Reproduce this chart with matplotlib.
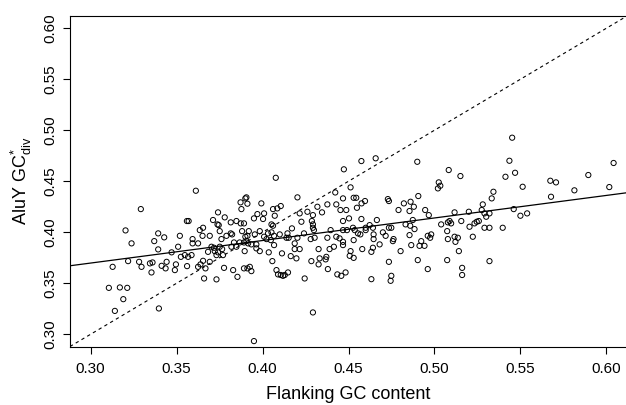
#!/usr/bin/env python3
"""
Scatter of AluY GC*div against flanking GC content,
with the y = x diagonal and a least-squares line.
"""

import matplotlib
matplotlib.use("Agg")
import matplotlib.pyplot as plt

# flanking GC content (x) and AluY GC*div (y)
gc_flank = [
    0.3612, 0.3292,
    0.4473, 0.4077, 0.3906, 0.3900, 0.4203, 0.3872, 0.3912, 0.3993, 0.3877, 0.4423,
    0.4468, 0.4319, 0.4377, 0.4429, 0.4453, 0.4261, 0.4346, 0.4293, 0.4216, 0.4061,
    0.4086, 0.4106, 0.4071, 0.3970, 0.4009, 0.3741, 0.3780, 0.3950, 0.4003,
    0.4575, 0.4658, 0.4900, 0.5083, 0.5151, 0.5025, 0.5034, 0.5020, 0.4512, 0.4530,
    0.4545, 0.4596, 0.4576, 0.4549, 0.4729, 0.4735, 0.4906, 0.4822, 0.4861, 0.4880,
    0.4855, 0.4791, 0.4487, 0.4946, 0.4967, 0.5117, 0.5200, 0.4503, 0.4575,
    0.5452, 0.5436, 0.5413, 0.5469, 0.5513, 0.5343, 0.5333, 0.5674, 0.5707, 0.5678,
    0.5814, 0.5895, 0.6017, 0.6042, 0.5281, 0.5275, 0.5461, 0.5291, 0.5320, 0.5301,
    0.5500, 0.5539,
    0.3560, 0.3570, 0.3203, 0.3238, 0.3393, 0.3428, 0.3370, 0.3519, 0.3393, 0.3471,
    0.3509, 0.3635, 0.3654, 0.3593, 0.3625, 0.3593, 0.3651, 0.3693, 0.3683, 0.3548,
    0.3567, 0.3587, 0.3525, 0.3128, 0.3218, 0.3282, 0.3296, 0.3345, 0.3360, 0.3354,
    0.3413, 0.3442, 0.3436, 0.3496, 0.3490, 0.3561, 0.3625, 0.3639, 0.3654, 0.3668,
    0.3660, 0.3106, 0.3170, 0.3213, 0.3190, 0.3141, 0.3397,
    0.3712, 0.3815, 0.3848, 0.3873, 0.3892, 0.3738, 0.3745, 0.4052, 0.4061, 0.4226,
    0.4287, 0.4293, 0.4293, 0.4299, 0.4468,
    0.3751, 0.3790, 0.3761, 0.3815, 0.3823, 0.3881, 0.3920, 0.3900, 0.3912, 0.3984,
    0.3955, 0.4009, 0.4032, 0.4052, 0.4067, 0.4023, 0.4048, 0.4100, 0.4145, 0.4139,
    0.4152, 0.4171, 0.4203, 0.4241, 0.4280, 0.4303, 0.4377, 0.4396, 0.4429, 0.4468,
    0.3703, 0.3718, 0.3722, 0.3741, 0.3732, 0.3751, 0.3765, 0.3770, 0.3819, 0.3848,
    0.3834, 0.3867, 0.3892, 0.3906, 0.3916, 0.3896, 0.3935, 0.3964, 0.3964, 0.3984,
    0.4036, 0.4067, 0.4113, 0.4164, 0.4187, 0.4187, 0.4197, 0.4216, 0.4284, 0.4326,
    0.4332, 0.4326, 0.4371, 0.4367, 0.4380, 0.4390, 0.4415, 0.4448, 0.4468, 0.4468,
    0.3693, 0.3776, 0.3829, 0.3854, 0.3732, 0.3892, 0.3912, 0.3926, 0.3935, 0.4057,
    0.4081, 0.4090, 0.4106, 0.4119, 0.4129, 0.4148, 0.4245, 0.4435, 0.4458, 0.4293,
    0.3950,
    0.4665, 0.4874, 0.5039, 0.5088, 0.5078, 0.5097, 0.5156, 0.5204, 0.5233, 0.5246,
    0.5258,
    0.4491, 0.4526, 0.4536, 0.4530, 0.4569, 0.4600, 0.4600, 0.4623, 0.4642, 0.4646,
    0.4646, 0.4555,
    0.4512, 0.4507, 0.4530, 0.4580, 0.4633, 0.4642, 0.4681, 0.4700, 0.4716, 0.4735,
    0.4749, 0.4762, 0.4758, 0.4735, 0.4803, 0.4855, 0.4865, 0.4884, 0.4923, 0.4913,
    0.4942, 0.4903, 0.4961, 0.4981, 0.4975, 0.4961, 0.5074, 0.5078, 0.5117, 0.5136,
    0.5122, 0.5074, 0.5142, 0.5161, 0.5161, 0.5223, 0.4483, 0.4633, 0.4749, 0.4745,
    0.4832, 0.4859,
    0.5291, 0.5320, 0.5397, 0.5320,
]

gc_aluy = [
    0.4407, 0.4227,
    0.4617, 0.4534, 0.4342, 0.4332, 0.4342, 0.4293, 0.4280, 0.4283, 0.4227, 0.4390,
    0.4332, 0.4250, 0.4273, 0.4273, 0.4218, 0.4201, 0.4195, 0.4168, 0.4185, 0.4227,
    0.4234, 0.4257, 0.4162, 0.4178, 0.4185, 0.4195, 0.4146, 0.4136, 0.4130,
    0.4698, 0.4725, 0.4691, 0.4610, 0.4551, 0.4489, 0.4456, 0.4430, 0.4440, 0.4338,
    0.4338, 0.4306, 0.4283, 0.4240, 0.4325, 0.4306, 0.4355, 0.4283, 0.4299, 0.4250,
    0.4208, 0.4218, 0.4218, 0.4218, 0.4168, 0.4195, 0.4201, 0.4136, 0.4130,
    0.4927, 0.4701, 0.4544, 0.4583, 0.4446, 0.4397, 0.4332, 0.4505, 0.4489, 0.4348,
    0.4411, 0.4561, 0.4443, 0.4679, 0.4273, 0.4218, 0.4227, 0.4185, 0.4185, 0.4152,
    0.4162, 0.4185,
    0.4110, 0.4110, 0.4018, 0.3891, 0.3989, 0.3950, 0.3913, 0.3965, 0.3832, 0.3803,
    0.3858, 0.4021, 0.4044, 0.3933, 0.3891, 0.3891, 0.3965, 0.3965, 0.3808, 0.3776,
    0.3759, 0.3776, 0.3759, 0.3661, 0.3717, 0.3710, 0.3661, 0.3695, 0.3704, 0.3606,
    0.3671, 0.3710, 0.3646, 0.3685, 0.3629, 0.3668, 0.3661, 0.3685, 0.3720, 0.3646,
    0.3547, 0.3455, 0.3459, 0.3455, 0.3344, 0.3229, 0.3253,
    0.4120, 0.4097, 0.4110, 0.4087, 0.4087, 0.4077, 0.4070, 0.4077, 0.4064, 0.4103,
    0.4110, 0.4077, 0.4044, 0.4021, 0.4110,
    0.4011, 0.3965, 0.3933, 0.3989, 0.3979, 0.4011, 0.4011, 0.3956, 0.3965, 0.4011,
    0.3979, 0.3956, 0.3989, 0.3999, 0.3965, 0.3933, 0.3923, 0.3979, 0.3989, 0.3946,
    0.3946, 0.4038, 0.3946, 0.3989, 0.3933, 0.3946, 0.3946, 0.4021, 0.3956, 0.4021,
    0.3858, 0.3848, 0.3815, 0.3803, 0.3776, 0.3858, 0.3835, 0.3776, 0.3858, 0.3858,
    0.3900, 0.3900, 0.3900, 0.3913, 0.3891, 0.3815, 0.3881, 0.3881, 0.3842, 0.3815,
    0.3803, 0.3874, 0.3793, 0.3766, 0.3835, 0.3891, 0.3744, 0.3835, 0.3717, 0.3835,
    0.3744, 0.3685, 0.3759, 0.3734, 0.3639, 0.3835, 0.3858, 0.3940, 0.3906, 0.3874,
    0.3710, 0.3651, 0.3629, 0.3563, 0.3538, 0.3646, 0.3646, 0.3661, 0.3619, 0.3717,
    0.3629, 0.3587, 0.3581, 0.3573, 0.3581, 0.3606, 0.3547, 0.3587, 0.3573, 0.3214,
    0.2933,
    0.4120, 0.4120, 0.4077, 0.4110, 0.4097, 0.4087, 0.4110, 0.4054, 0.4087, 0.4103,
    0.4110,
    0.4021, 0.4044, 0.4021, 0.3923, 0.3979, 0.4021, 0.4044, 0.4070, 0.4044, 0.3979,
    0.3933, 0.3989,
    0.3815, 0.3769, 0.3749, 0.3835, 0.3808, 0.3848, 0.3881, 0.3999, 0.3965, 0.4044,
    0.4044, 0.3933, 0.3913, 0.3710, 0.3815, 0.3972, 0.3874, 0.4031, 0.3913, 0.3867,
    0.3867, 0.3727, 0.3965, 0.3979, 0.3946, 0.3639, 0.4011, 0.3933, 0.3956, 0.3946,
    0.3906, 0.3727, 0.3815, 0.3651, 0.3581, 0.3956, 0.3606, 0.3540, 0.3573, 0.3524,
    0.4077, 0.4064,
    0.4044, 0.4044, 0.4044, 0.3717,
]

# regression line as drawn in the figure
fit_intercept = 0.3035
fit_slope = 0.221

x_ticks = [0.30, 0.35, 0.40, 0.45, 0.50, 0.55, 0.60]
y_ticks = [0.30, 0.35, 0.40, 0.45, 0.50, 0.55, 0.60]
x_lim = (0.288, 0.612)
y_lim = (0.288, 0.612)

plt.rcParams['font.family'] = ['Liberation Sans', 'DejaVu Sans']
plt.rcParams['mathtext.fontset'] = 'custom'
plt.rcParams['mathtext.rm'] = 'Liberation Sans'
plt.rcParams['mathtext.it'] = 'Liberation Sans'

fig = plt.figure(figsize=(6.26, 4.05), dpi=100)
ax = fig.add_axes([70 / 626, 58.5 / 405, 557 / 626, 330.5 / 405])

ax.scatter(gc_flank, gc_aluy, s=14, facecolors='none', edgecolors='black',
           linewidths=0.7, zorder=3)

# y = x reference and fitted line
ax.axline((0.3, 0.3), slope=1, color='black', lw=0.8, ls=(0, (3, 3)))
ax.axline((0.0, fit_intercept), slope=fit_slope, color='black', lw=0.9)

ax.set_xlim(*x_lim)
ax.set_ylim(*y_lim)
ax.set_xticks(x_ticks)
ax.set_yticks(y_ticks)
ax.set_xticklabels([f"{t:.2f}" for t in x_ticks])
ax.set_yticklabels([f"{t:.2f}" for t in y_ticks], rotation=90, va='center')
ax.tick_params(direction='out', length=5, width=0.8, labelsize=11)
ax.tick_params(axis='x', pad=6)
ax.tick_params(axis='y', pad=4)

for side in ['left', 'top', 'bottom']:
    ax.spines[side].set_linewidth(0.8)
ax.spines['right'].set_visible(False)

ax.set_xlabel("Flanking GC content", fontsize=13)
ax.set_ylabel(r"AluY GC$^{*}_{\mathrm{div}}$", fontsize=13)
ax.xaxis.set_label_coords(0.5, -0.12)
ax.yaxis.set_label_coords(-0.064, 0.5)

fig.savefig("out.png", dpi=100)
